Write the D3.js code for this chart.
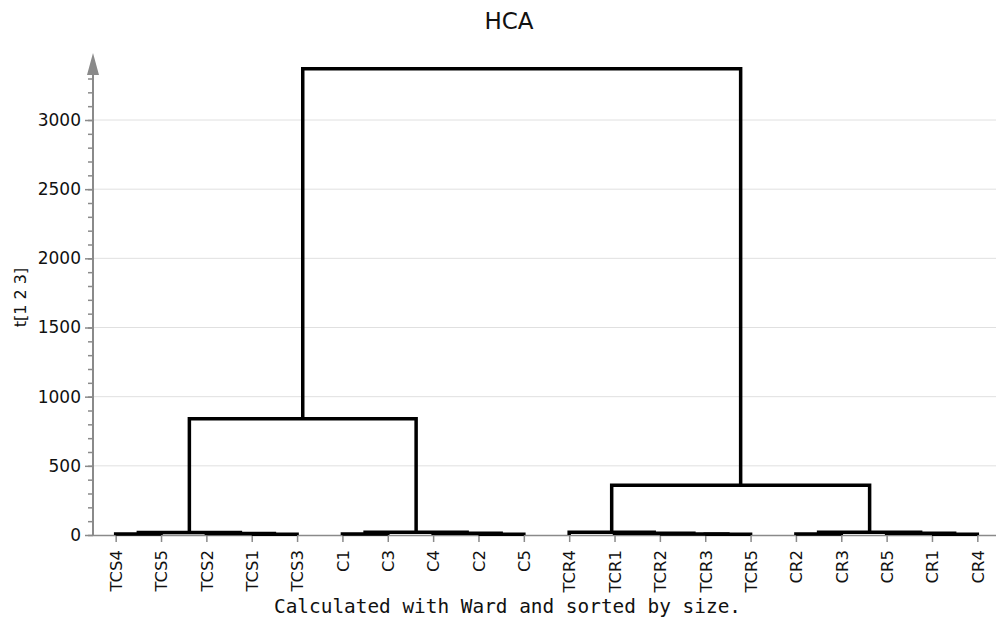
<!DOCTYPE html>
<html>
<head>
<meta charset="utf-8">
<script src="https://cdn.jsdelivr.net/npm/d3@7/dist/d3.min.js"></script>
<style>
  html, body { margin: 0; padding: 0; background: #fff; }
  svg { display: block; }
</style>
</head>
<body>
<svg id="chart" width="996" height="622"></svg>
<script>
// Leaves in dendrogram order (left to right)
const leafLabels = ["TCS4","TCS5","TCS2","TCS1","TCS3","C1","C3","C4","C2","C5",
                    "TCR4","TCR1","TCR2","TCR3","TCR5","CR2","CR3","CR5","CR1","CR4"];

// Linkage table: node ids 0..19 are leaves, merge k creates node 20+k
const mergeLeft   = [0, 3, 2, 20, 5, 8, 7, 24, 13, 12, 11, 10, 15, 18, 17, 32, 23, 31, 36];
const mergeRight  = [1, 4, 21, 22, 6, 9, 25, 26, 14, 28, 29, 30, 16, 19, 33, 34, 27, 35, 37];
const mergeHeight = [7, 5, 10, 18, 8, 6, 12, 20, 5, 8, 12, 20, 8, 5, 12, 20, 840, 360, 3370];

const yMajorTicks = [0, 500, 1000, 1500, 2000, 2500, 3000];
const yMinorTicks = d3.range(0, 3400, 100);
const yAxisTop = 3325;

const titleText = "HCA";
const yLabelText = "t[1 2 3]";
const captionText = "Calculated with Ward and sorted by size.";

const svg = d3.select("#chart");
const W = 996, H = 622;
const left = 93, right = 1000, base = 535;

const x = d3.scalePoint().domain(leafLabels).range([left, right]).padding(0.5);
const y = d3.scaleLinear().domain([0, 3000]).range([base, 120]);

// gridlines
svg.append("g").selectAll("line")
  .data(yMajorTicks.filter(d => d > 0))
  .join("line")
  .attr("x1", left).attr("x2", W)
  .attr("y1", d => y(d)).attr("y2", d => y(d))
  .attr("stroke", "#e0e0e0").attr("stroke-width", 1);

const axisColor = "#8a8a8a";

// y axis: minor ticks
const minorAxis = svg.append("g").attr("transform", `translate(${left},0)`)
  .call(d3.axisLeft(y).tickValues(yMinorTicks).tickSize(5).tickFormat(""));
minorAxis.select(".domain").remove();
minorAxis.selectAll("line").attr("stroke", axisColor).attr("stroke-width", 1.5);

// y axis: major ticks with labels
const majorAxis = svg.append("g").attr("transform", `translate(${left},0)`)
  .call(d3.axisLeft(y).tickValues(yMajorTicks).tickFormat(d3.format("d")).tickSize(8).tickPadding(4));
majorAxis.select(".domain").remove();
majorAxis.selectAll("line").attr("stroke", axisColor).attr("stroke-width", 1.5);
majorAxis.selectAll("text")
  .attr("font-family", "DejaVu Sans, Verdana, sans-serif")
  .attr("font-size", 17).attr("fill", "#111");

// y axis line with arrow head
svg.append("line")
  .attr("x1", left).attr("x2", left)
  .attr("y1", base).attr("y2", y(yAxisTop))
  .attr("stroke", axisColor).attr("stroke-width", 2);
svg.append("path")
  .attr("d", `M${left - 6},${y(yAxisTop)} L${left + 6},${y(yAxisTop)} L${left},${y(yAxisTop) - 22} Z`)
  .attr("fill", axisColor);

// x axis with leaf ticks
const xAxis = svg.append("g").attr("transform", `translate(0,${base})`)
  .call(d3.axisBottom(x).tickSize(7).tickSizeOuter(0).tickPadding(8));
xAxis.select(".domain").attr("d", `M${left},0.5H${W}`).attr("stroke", axisColor).attr("stroke-width", 1.5);
xAxis.selectAll("line").attr("stroke", axisColor).attr("stroke-width", 1.5);
xAxis.selectAll("text")
  .attr("font-family", "DejaVu Sans, Verdana, sans-serif")
  .attr("font-size", 16.5).attr("fill", "#111")
  .attr("transform", "rotate(-90)")
  .attr("text-anchor", "end")
  .attr("x", -15).attr("y", 0).attr("dy", "0.35em");

// dendrogram node positions
const nodeX = leafLabels.map(d => x(d));
const nodeH = leafLabels.map(() => 0);
const nMerges = mergeLeft.length;
for (let k = 0; k < nMerges; k++) {
  nodeX.push((nodeX[mergeLeft[k]] + nodeX[mergeRight[k]]) / 2);
  nodeH.push(mergeHeight[k]);
}

const links = d3.range(nMerges).map(k => {
  const a = mergeLeft[k], b = mergeRight[k], h = mergeHeight[k];
  return `M${nodeX[a]},${y(nodeH[a])}V${y(h)}H${nodeX[b]}V${y(nodeH[b])}`;
});

svg.append("g").selectAll("path")
  .data(links)
  .join("path")
  .attr("d", d => d)
  .attr("fill", "none")
  .attr("stroke", "#000")
  .attr("stroke-width", 3.5)
  .attr("stroke-linejoin", "miter");

// title
svg.append("text")
  .attr("x", 509).attr("y", 29)
  .attr("text-anchor", "middle")
  .attr("font-family", "DejaVu Sans, Verdana, sans-serif")
  .attr("font-size", 23).attr("fill", "#111")
  .text(titleText);

// y label
svg.append("text")
  .attr("transform", `translate(26,${(base + 60) / 2}) rotate(-90)`)
  .attr("text-anchor", "middle")
  .attr("font-family", "DejaVu Sans, Verdana, sans-serif")
  .attr("font-size", 16).attr("fill", "#111")
  .text(yLabelText);

// caption
svg.append("text")
  .attr("x", 507.5).attr("y", 613)
  .attr("text-anchor", "middle")
  .attr("font-family", "DejaVu Sans Mono, monospace")
  .attr("font-size", 19.4).attr("fill", "#111")
  .text(captionText);
</script>
</body>
</html>
